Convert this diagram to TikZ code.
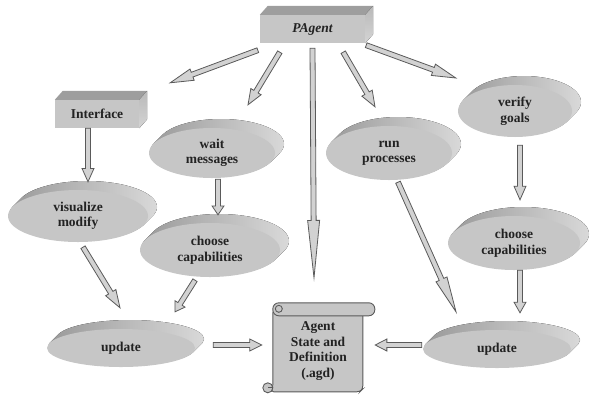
\documentclass[tikz,border=0pt]{standalone}
\usepackage{fontspec}
\setmainfont{Liberation Serif}
\usetikzlibrary{calc,shapes.geometric}

\definecolor{facegray}{HTML}{C6C6C6}
\definecolor{topgray}{HTML}{9E9E9E}
\definecolor{sidegray}{HTML}{D4D4D4}
\definecolor{arrowfill}{HTML}{D2D2D2}
\definecolor{arrowline}{HTML}{5A5A5A}
\definecolor{inkgray}{HTML}{222222}

% hollow block arrow between two points
\newcommand\blockarrow[2]{%
  \coordinate (ba-s) at (#1);
  \coordinate (ba-e) at (#2);
  \coordinate (ba-h) at ($(ba-s)!.75!(ba-e)$);
  \draw[arrowbody] ($(ba-s)!2.5pt!90:(ba-e)$) -- ($(ba-h)!2.5pt!-90:(ba-s)$)
    -- ($(ba-h)!6pt!-90:(ba-s)$) -- (ba-e) -- ($(ba-h)!6pt!90:(ba-s)$)
    -- ($(ba-h)!2.5pt!90:(ba-s)$) -- ($(ba-s)!2.5pt!-90:(ba-e)$) -- cycle;}

\begin{document}
\begin{tikzpicture}[
  x=1pt,y=-1pt,
  every node/.style={font=\fontsize{13.5}{15.5}\selectfont\bfseries, text=inkgray},
  boxface/.style={rectangle, fill=facegray, inner sep=0pt},
  disc/.style={ellipse, fill=facegray, inner sep=0pt, align=center},
  rimshade/.style={left color=gray!80, right color=gray!30},
  arrowbody/.style={fill=arrowfill, draw=arrowline, line width=0.8pt, line join=miter},
  scroll/.style={fill=facegray, draw=arrowline, line width=0.9pt}
]
\useasboundingbox (0,0) rectangle (593,397);

% boxes with a top and a side face
\node[boxface, minimum width=105pt, minimum height=28pt] (pa) at (312.5,29) {\itshape PAgent};
\node[boxface, minimum width=84pt, minimum height=28pt] (ifc) at (97,114) {Interface};
\foreach \b in {pa,ifc} {
  \fill[topgray] (\b.north west) -- ++(8,-9) -- ([shift={(8,-9)}]\b.north east) -- (\b.north east) -- cycle;
  \fill[top color=gray!55, bottom color=sidegray] (\b.north east) -- ++(8,-9) -- ([shift={(8,-9)}]\b.south east) -- (\b.south east) -- cycle;
}

% raised discs
\foreach \nm/\x/\y/\w/\h/\txt in {
    wm/212/153/126/50/{wait\\messages},
    vm/78/216/140/52/{visualize\\modify},
    cl/210/250/140/54/{choose\\capabilities},
    ul/121/348/148/38/{update},
    rp/389/153/126/54/{run\\processes},
    vg/515/111/114/52/{verify\\goals},
    cr/514/243/132/54/{choose\\capabilities},
    ur/497/349/148/38/{update}} {
  \fill[rimshade] \foreach \d in {1,...,9} {(\x+\d,\y-\d) ellipse [x radius=\w/2, y radius=\h/2]};
  \node[disc, minimum width=\w pt, minimum height=\h pt] (\nm) at (\x,\y) {\txt};
}

% the scroll
\node[minimum width=90pt, minimum height=82pt, inner sep=0pt, align=center] (agd) at (318,351) {};
\begin{scope}[shift={(agd.north west)}]
  \filldraw[scroll, rounded corners=3] (0,0) -- (0,78) -- (-2,82) -- (87,82) -- (90,79) -- (90,0) -- cycle;
  \filldraw[scroll, rounded corners=6] (0,-7) rectangle (102,6);
  \draw[scroll] (6,-1) circle [radius=3.5];
  \draw[scroll] (-5,78) circle [radius=5];
  \draw[arrowline, line width=0.9pt] (-5,78) -- (0,78);
\end{scope}
\node[align=center] at (agd) {Agent\\State and\\Definition\\(.agd)};

% arrows
\blockarrow{[shift={(-2,7)}]pa.south west}{[shift={(31,-17)}]ifc.north east}
\blockarrow{[shift={(20,9)}]pa.south west}{[shift={(36,-23)}]wm.north}
\blockarrow{[shift={(0,5)}]pa.south}{[shift={(-4,-32)}]agd.north}
\blockarrow{[shift={(-22,9)}]pa.south east}{[shift={(-14,-19)}]rp.north}
\blockarrow{[shift={(1,2)}]pa.south east}{[shift={(-2,-33)}]vg.west}
\blockarrow{[shift={(-9,0)}]ifc.south}{[shift={(10,-8)}]vm.north}
\blockarrow{[shift={(6,1)}]wm.south}{[shift={(8,-8)}]cl.north}
\blockarrow{[shift={(5,5)}]vm.south}{[shift={(-1,-21)}]ul.north}
\blockarrow{[shift={(-15,3)}]cl.south}{[shift={(54,-17)}]ul.north}
\blockarrow{[shift={(18,-3)}]ul.east}{[shift={(-11,-6)}]agd.west}
\blockarrow{[shift={(9,2)}]rp.south}{[shift={(-41,-18)}]ur.north}
\blockarrow{[shift={(5,8)}]vg.south}{[shift={(6,-16)}]cr.north}
\blockarrow{[shift={(6,0)}]cr.south}{[shift={(23,-17)}]ur.north}
\blockarrow{[shift={(-1,-4)}]ur.west}{[shift={(12,-6)}]agd.east}
\end{tikzpicture}
\end{document}
